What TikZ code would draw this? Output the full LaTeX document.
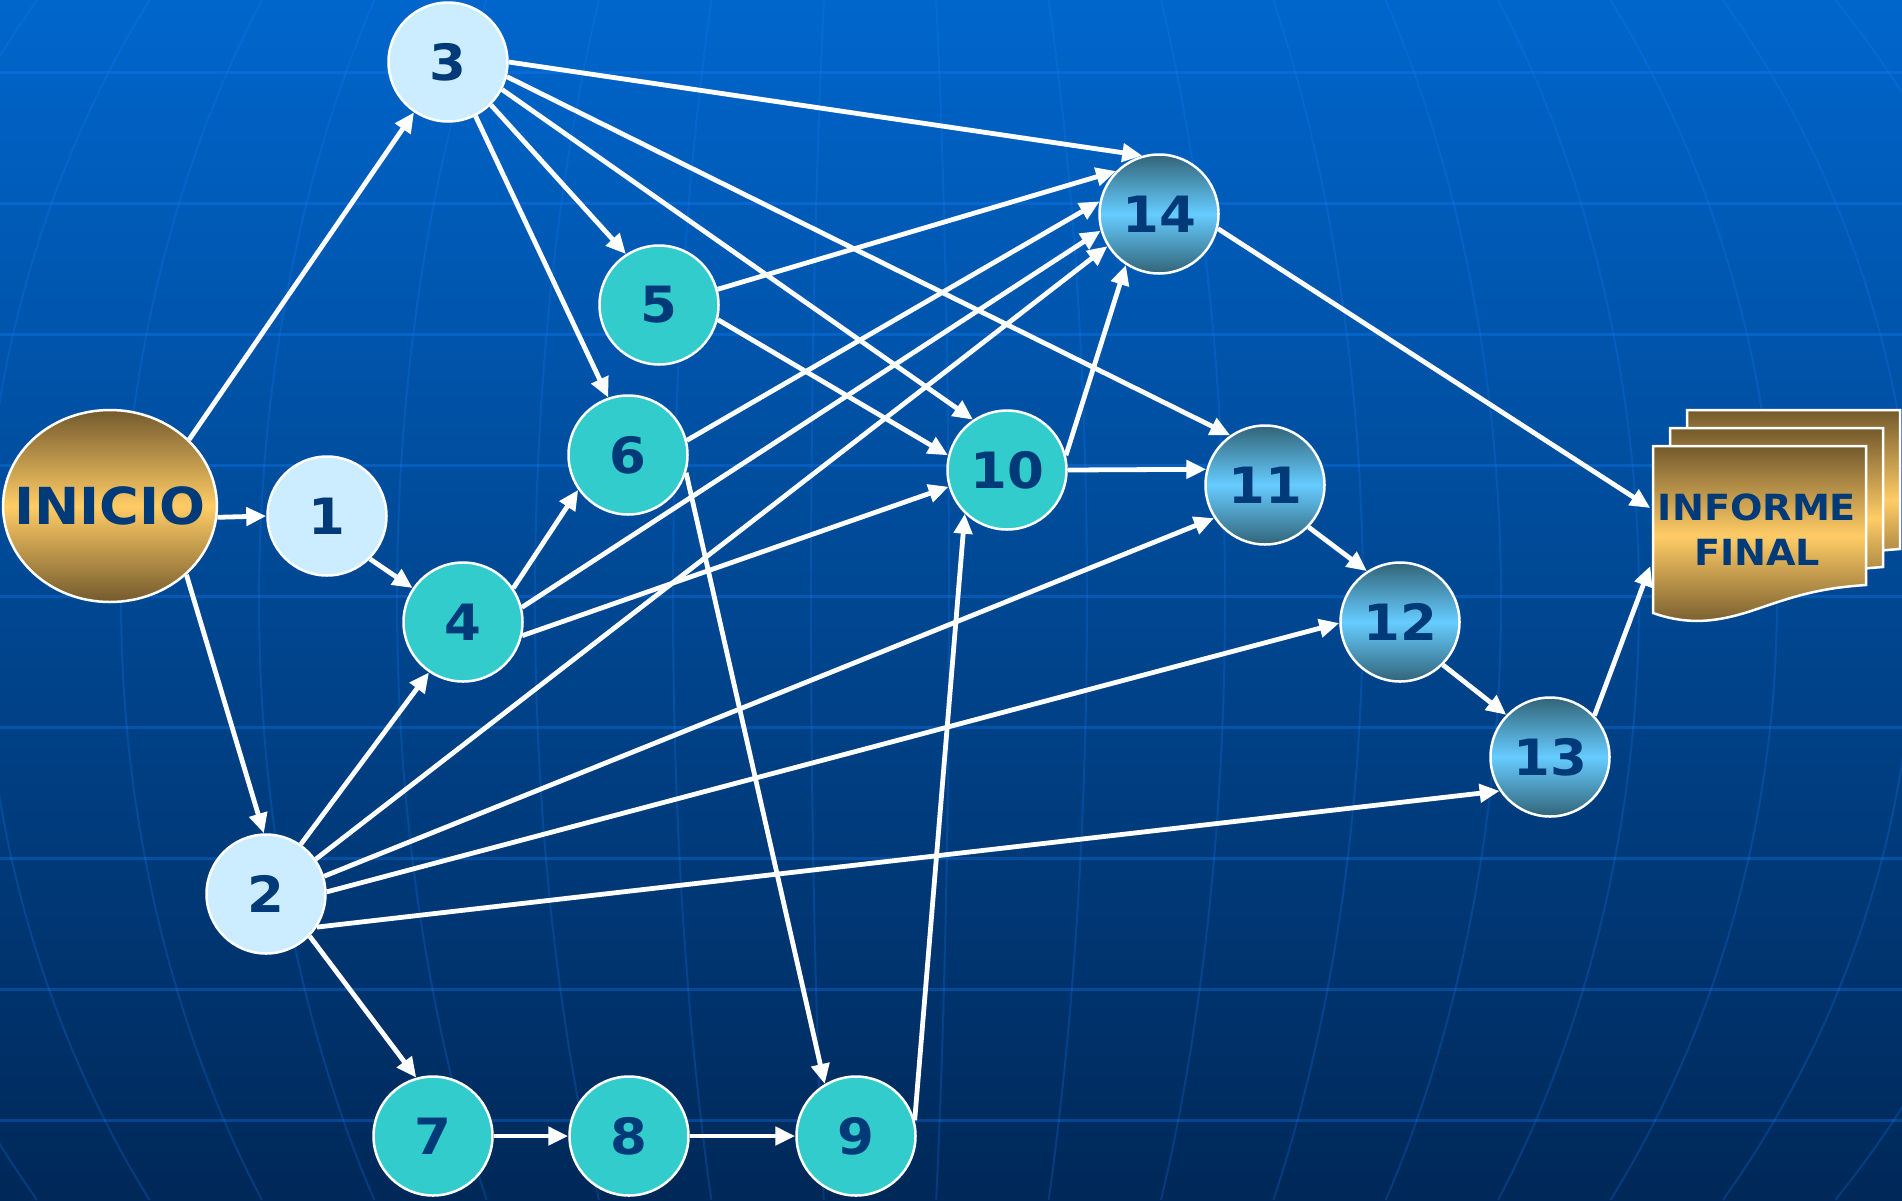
\documentclass[tikz,border=0pt]{standalone}
\usepackage{fontspec}
\setmainfont{DejaVu Sans}[FakeStretch=1.06]
\usetikzlibrary{arrows.meta,shapes.geometric,calc}
\definecolor{bgtop}{RGB}{0,102,204}
\definecolor{bgbot}{RGB}{0,40,88}
\definecolor{gridc}{RGB}{20,130,255}
\definecolor{navy}{RGB}{0,58,120}
\definecolor{pale}{RGB}{204,236,255}
\definecolor{tealc}{RGB}{51,204,204}
\definecolor{skyd}{RGB}{50,100,120}
\definecolor{skyl}{RGB}{102,204,255}
\definecolor{goldd}{RGB}{115,90,45}
\definecolor{goldl}{RGB}{255,204,102}
\begin{document}
\begin{tikzpicture}[x=1pt,y=-1pt,
  nd/.style={circle, draw=white, line width=2.5pt, minimum size=119pt, inner sep=0pt,
    font=\bfseries\fontsize{50}{60}\selectfont, text=navy},
  palenode/.style={nd, fill=pale},
  tealnode/.style={nd, fill=tealc},
  gradnode/.style={nd, top color=skyd, bottom color=skyd, middle color=skyl},
  docpg/.style={draw=white, line width=2.5pt, top color=goldd, bottom color=goldd, middle color=goldl},
  conn/.style={draw=white, line width=4.8pt, -{Triangle[length=20pt,width=18pt]}},
  gridline/.style={draw=gridc, opacity=0.3, line width=3pt},
  meridian/.style={draw=gridc, opacity=0.22, line width=2pt}
]
\useasboundingbox (0,0) rectangle (1902,1200);
% background
\shade[top color=bgtop, bottom color=bgbot] (0,0) rectangle (1902,1200);
\begin{scope}
\clip (0,0) rectangle (1902,1200);
\foreach \yy in {72,203,334,465,596,727,858,989,1120}
  \path[gridline] (0,\yy) -- (1902,\yy);
\foreach \k in {-1035,-897,-759,-621,-483,-345,-207,-69,69,207,345,483,621,759,897,1035,1173}
  \path[meridian] plot[domain=0:1200, samples=40, variable=\t, smooth] ({880+(\k)*sqrt(1-((\t-600)/1034)^2)}, \t);
\end{scope}

% document stack
\begin{scope}[shift={(34,-36)}]
\path[docpg] (1653,446) -- (1866,446) -- (1866,585) .. controls (1820,588) and (1795,596) .. (1760,608) .. controls (1720,622) and (1690,626) .. (1653,613) -- cycle;
\end{scope}
\begin{scope}[shift={(17,-18)}]
\path[docpg] (1653,446) -- (1866,446) -- (1866,585) .. controls (1820,588) and (1795,596) .. (1760,608) .. controls (1720,622) and (1690,626) .. (1653,613) -- cycle;
\end{scope}
\path[docpg] (1653,446) -- (1866,446) -- (1866,585) .. controls (1820,588) and (1795,596) .. (1760,608) .. controls (1720,622) and (1690,626) .. (1653,613) -- cycle;
\node[inner sep=0pt, minimum width=213pt, minimum height=160pt, align=center,
  font=\bfseries\fontsize{36}{45}\selectfont, text=navy] (inf) at (1757,530) {INFORME\\FINAL};

% nodes
\node[ellipse, draw=white, line width=2.5pt, minimum width=212pt, minimum height=192pt,
  inner xsep=-20pt, inner ysep=0pt,
  top color=goldd, bottom color=goldd, middle color=goldl,
  font=\bfseries\fontsize{51}{60}\selectfont, text=navy] (I) at (110,506) {INICIO};
\node[palenode] (n1) at (327,516) {1};
\node[palenode] (n2) at (266,894) {2};
\node[palenode] (n3) at (448,62) {3};
\node[tealnode] (n4) at (463,622) {4};
\node[tealnode] (n5) at (659,305) {5};
\node[tealnode] (n6) at (628,455) {6};
\node[tealnode] (n7) at (433,1136) {7};
\node[tealnode] (n8) at (629,1136) {8};
\node[tealnode] (n9) at (856,1136) {9};
\node[tealnode] (n10) at (1007,470) {10};
\node[gradnode] (n11) at (1265,485) {11};
\node[gradnode] (n12) at (1400,622) {12};
\node[gradnode] (n13) at (1550,757) {13};
\node[gradnode] (n14) at (1159,214) {14};

% connectors
\draw[conn] (I.40) -- (n3.236);
\draw[conn] (I.-6) -- (n1.180);
\draw[conn] (I.318) -- (n2.92);
\draw[conn] (n1.315) -- (n4.146);
\draw[conn] (n2.55) -- (n4.236);
\draw[conn] (n2.316) -- (n7.106);
\draw[conn] (n2.35) -- (n14.212);
\draw[conn] (n2.17) -- (n11.213);
\draw[conn] (n2.2) -- (n12.181);
\draw[conn] (n2.327) -- (n13.214);
\draw[conn] (n3.0) -- (n14.106);
\draw[conn] (n3.346) -- (n11.125);
\draw[conn] (n3.333) -- (n10.124);
\draw[conn] (n3.315) -- (n5.123);
\draw[conn] (n3.297) -- (n6.109);
\draw[conn] (n4.34) -- (n6.215);
\draw[conn] (n4.14) -- (n14.196);
\draw[conn] (n4.347) -- (n10.196);
\draw[conn] (n5.15) -- (n14.135);
\draw[conn] (n5.346) -- (n10.166);
\draw[conn] (n6.14) -- (n14.168);
\draw[conn] (n6.343) -- (n9.121);
\draw[conn] (n7.0) -- (n8.180);
\draw[conn] (n8.0) -- (n9.180);
\draw[conn] (n9.15) -- (n10.226);
\draw[conn] (n10.14) -- (n14.237);
\draw[conn] (n10.0) -- (n11.165);
\draw[conn] (n11.316) -- (n12.123);
\draw[conn] (n12.315) -- (n13.136);
\draw[conn] (n13.43) -- ([yshift=-36pt]inf.west);
\draw[conn] (n14.346) -- ([yshift=22pt]inf.west);
\end{tikzpicture}
\end{document}
